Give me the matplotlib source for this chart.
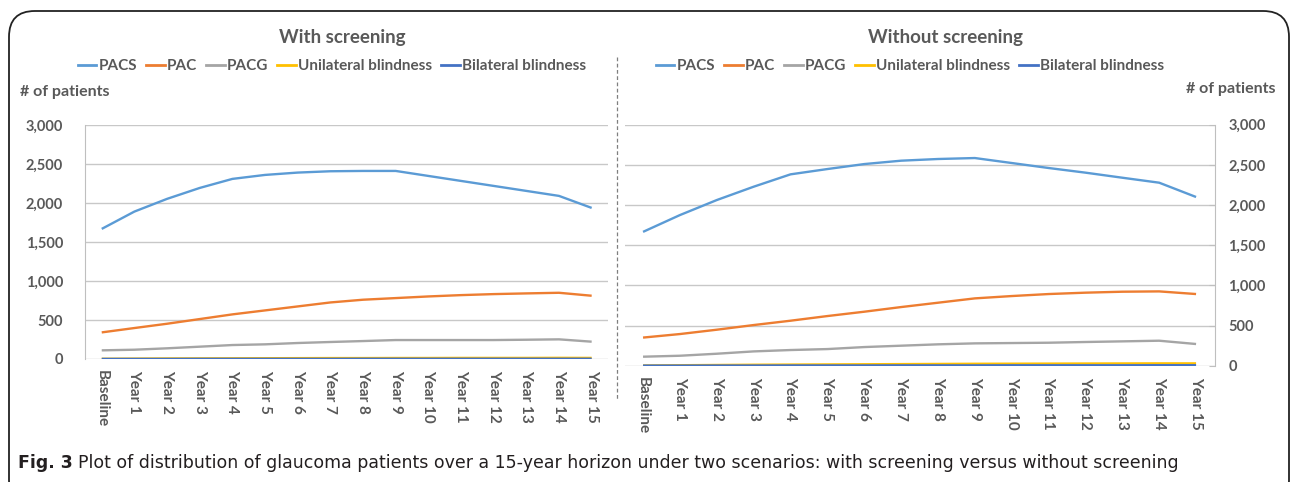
import matplotlib
matplotlib.use("Agg")
import matplotlib.pyplot as plt
from matplotlib.lines import Line2D
from matplotlib.patches import FancyBboxPatch
import numpy as np

W, H = 1292, 482

categories = ["Baseline"] + [f"Year {i}" for i in range(1, 16)]
series_names = ["PACS", "PAC", "PACG", "Unilateral blindness", "Bilateral blindness"]
colors = ["#5B9BD5", "#ED7D31", "#A5A5A5", "#FFC000", "#4472C4"]

# with screening
with_pacs = [1668, 1890, 2053, 2193, 2309, 2360, 2390, 2407, 2411, 2411, 2347, 2283, 2219, 2155, 2091, 1937]
with_pac = [341, 397, 452, 512, 572, 623, 674, 725, 760, 781, 802, 819, 832, 841, 849, 811]
with_pacg = [111, 119, 137, 158, 179, 188, 205, 218, 230, 243, 243, 243, 243, 247, 252, 222]
with_uni = [3, 5, 7, 8, 9, 10, 11, 12, 12, 13, 13, 14, 14, 14, 15, 14]
with_bi = [1, 1, 1, 2, 2, 2, 2, 2, 3, 3, 3, 3, 3, 3, 3, 3]

# without screening
without_pacs = [1666, 1875, 2062, 2228, 2382, 2448, 2510, 2552, 2573, 2585, 2523, 2461, 2403, 2340, 2278, 2100]
without_pac = [350, 394, 448, 506, 560, 618, 672, 730, 784, 838, 867, 892, 909, 921, 925, 892]
without_pacg = [112, 124, 149, 178, 195, 207, 232, 249, 266, 278, 282, 286, 295, 303, 311, 270]
without_uni = [3, 6, 9, 12, 14, 16, 18, 20, 22, 24, 25, 26, 27, 28, 29, 29]
without_bi = [1, 1, 2, 2, 3, 3, 3, 4, 4, 4, 5, 5, 5, 5, 6, 6]

yticks = [0, 500, 1000, 1500, 2000, 2500, 3000]

TXT = "#595959"
GRID = "#C8C8C8"
plt.rcParams["font.family"] = ["Lato", "DejaVu Sans"]


def box(x0, y0, x1, y1):
    # pixel box (top-left origin) -> figure fraction rect
    return [x0 / W, 1 - y1 / H, (x1 - x0) / W, (y1 - y0) / H]


def draw_panel(ax, data, side):
    x = np.arange(len(categories))
    for vals, c in zip(data, colors):
        ax.plot(x, vals, color=c, lw=1.7, solid_capstyle="butt", zorder=3)
    ax.set_xlim(-0.5, len(categories) - 0.5)
    ax.set_ylim(0, 3000)
    ax.set_yticks(yticks)
    ax.set_yticklabels([f"{v:,}" for v in yticks], fontweight="bold", fontsize=10.5, color=TXT)
    ax.set_xticks(x)
    ax.set_xticklabels(categories, rotation=-90, fontweight="bold", fontsize=11, color=TXT, va="top")
    ax.tick_params(axis="x", length=0, pad=8)
    ax.grid(axis="y", color=GRID, lw=1.0, zorder=0)
    for s in ["top", "bottom", "left", "right"]:
        ax.spines[s].set_visible(False)
    if side == "left":
        ax.spines["left"].set_visible(True)
        ax.spines["left"].set_color("#BFBFBF")
        ax.tick_params(axis="y", length=0, pad=16)
    else:
        ax.yaxis.tick_right()
        ax.spines["right"].set_visible(True)
        ax.spines["right"].set_color("#BFBFBF")
        ax.tick_params(axis="y", length=4, direction="in", color="#BFBFBF", pad=10)


fig = plt.figure(figsize=(W / 100, H / 100), dpi=100)

ax1 = fig.add_axes(box(85.4, 125, 608, 359))
ax2 = fig.add_axes(box(624.6, 124.7, 1214.5, 365.7))
draw_panel(ax1, [with_pacs, with_pac, with_pacg, with_uni, with_bi], "left")
draw_panel(ax2, [without_pacs, without_pac, without_pacg, without_uni, without_bi], "right")

fig.text(342 / W, 1 - 37 / H, "With screening", ha="center", va="center",
         fontsize=13.5, fontweight="bold", color=TXT)
fig.text(945 / W, 1 - 37 / H, "Without screening", ha="center", va="center",
         fontsize=13.5, fontweight="bold", color=TXT)

handles = [Line2D([], [], color=c, lw=2) for c in colors]
for cx in (332 / W, 910 / W):
    fig.legend(handles, series_names, loc="center", bbox_to_anchor=(cx, 1 - 66 / H),
               ncol=5, frameon=False, handlelength=1.2, handletextpad=0.15,
               columnspacing=0.6, prop={"weight": "bold", "size": 11},
               labelcolor=TXT, borderaxespad=0, borderpad=0)

fig.text(20 / W, 1 - 92 / H, "# of patients", ha="left", va="center",
         fontsize=11.5, fontweight="bold", color=TXT)
fig.text(1275 / W, 1 - 89 / H, "# of patients", ha="right", va="center",
         fontsize=11.5, fontweight="bold", color=TXT)

# dashed separator between the two panels
fig.add_artist(Line2D([617 / W, 617 / W], [1 - 57 / H, 1 - 400 / H], color="#7F7F7F",
                      lw=0.9, ls=(0, (3, 2))))

# outer rounded frame
fig.add_artist(FancyBboxPatch((9 / W, -0.05), 1280 / W, (H - 11) / H + 0.05,
                              boxstyle="round,pad=0,rounding_size=0.02",
                              transform=fig.transFigure, fill=False, ec="#222222", lw=1.3,
                              mutation_aspect=W / H))

# caption
t1 = fig.text(18 / W, 1 - 463 / H, "Fig. 3", ha="left", va="center", fontsize=12.5,
              fontweight="bold", color="#231F20", family="DejaVu Sans")
fig.canvas.draw()
bb = t1.get_window_extent()
fig.text((bb.x1 + 5) / W, 1 - 463 / H,
         "Plot of distribution of glaucoma patients over a 15-year horizon under two scenarios: "
         "with screening versus without screening",
         ha="left", va="center", fontsize=12.5, color="#231F20", family="DejaVu Sans")

fig.savefig("out.png", dpi=100)
